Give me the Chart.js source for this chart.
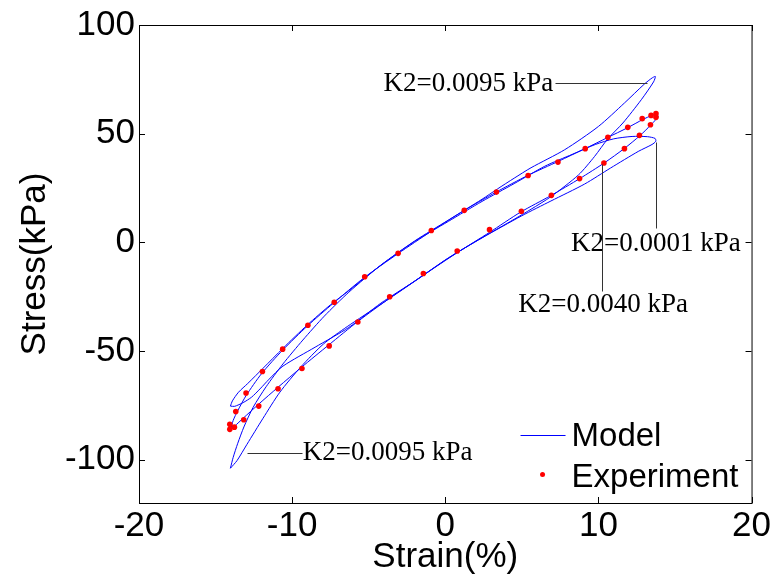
<!DOCTYPE html>
<html>
<head>
<meta charset="utf-8">
<script src="https://cdn.jsdelivr.net/npm/chart.js@4.4.0/dist/chart.umd.min.js"></script>
<style>
  html, body { margin: 0; padding: 0; background: #fff; }
</style>
</head>
<body>
<canvas id="chart" width="773" height="582"></canvas>
<script>
const xTicks = [-20, -10, 0, 10, 20];
const yTicks = [-100, -50, 0, 50, 100];

// experiment, one cycle: loading branch then unloading branch
const expStrain = [-14.07, -13.68, -13.01, -11.94, -10.62, -8.97, -7.25, -5.26, -3.08, -0.91,
  1.24, 3.34, 5.41, 7.36, 9.14, 10.62, 11.92, 12.86, 13.44, 13.76,
  13.76, 13.40, 12.68, 11.70, 10.36, 8.77, 6.93, 4.97, 2.89, 0.78,
  -1.43, -3.63, -5.71, -7.58, -9.36, -10.92, -12.18, -13.16, -13.77, -14.07];
const expStress = [-83.8, -77.9, -69.4, -59.5, -49.2, -38.2, -27.6, -15.9, -5.1, 5.4,
  14.7, 23.1, 30.7, 36.9, 43.1, 48.3, 52.9, 56.9, 58.4, 59.2,
  57.5, 54.1, 49.2, 43.1, 36.5, 29.3, 21.6, 14.3, 5.8, -4.0,
  -14.4, -25.1, -36.7, -47.7, -58.1, -67.4, -75.4, -81.7, -85.1, -86.1];

// model loops (K2 = 0.0095, 0.0040, 0.0001 kPa)
const k2a_strain = [-14.03, -13.85, -13.55, -13.15, -12.55, -11.7, -10.6, -9.3, -7.9, -6.3, -4.2, -2.0, 0.2, 2.4, 3.4, 4.5, 5.6, 7.8, 10.0, 11.7, 13.0, 13.5, 13.72,
  13.6, 12.8, 11.6, 10.6, 9.75, 8.7, 6.9, 5.6, 4.5, 2.4, 0.2, -2.0, -4.2, -6.4, -7.95, -9.45, -10.8, -11.9, -12.95, -13.6];
const k2a_stress = [-104, -99, -92.5, -85, -76, -66.5, -56, -45, -34, -23, -10.5, 0.6, 10.2, 19.8, 24.5, 29.5, 34.3, 42.6, 53.3, 64.1, 72.8, 75.6, 76.3,
  73.8, 65.6, 54.9, 47.5, 39.5, 31.0, 21.0, 15.2, 10.6, 2.1, -7.3, -18.0, -28.5, -38.8, -46.8, -57.5, -69.0, -81.0, -93.0, -100.5];

const k2b_strain = [-14.0, -13.85, -13.55, -13.0, -12.0, -10.6, -9.0, -7.3, -5.3, -3.1, -0.9, 1.2, 3.3, 5.4, 7.4, 9.1, 10.6, 11.9, 12.9, 13.5, 13.8,
  13.9, 13.75, 13.4, 12.7, 11.7, 10.4, 8.8, 6.9, 4.9, 2.9, 0.8, -1.4, -3.6, -5.7, -7.6, -9.4, -10.9, -12.2, -13.2, -13.75];
const k2b_stress = [-86.0, -82.0, -77.5, -70.5, -60.5, -49.5, -38.5, -28.0, -16.3, -5.3, 5.1, 14.5, 23.0, 30.8, 37.3, 43.0, 48.2, 52.7, 56.5, 58.4, 58.8,
  58.0, 56.5, 53.8, 49.0, 43.2, 36.6, 29.4, 21.5, 13.8, 4.6, -4.7, -15.0, -25.6, -36.4, -47.2, -57.6, -66.6, -74.6, -81.0, -84.6];

const k2c_strain = [-14.03, -13.9, -13.5, -12.9, -11.9, -10.6, -9.0, -7.5, -6.3, -4.2, -2.0, 0.2, 2.4, 4.5, 6.5, 8.3, 9.8, 11.0, 12.2, 13.2, 13.7,
  13.75, 13.5, 12.6, 10.8, 9.1, 6.9, 5.0, 2.4, 0.2, -2.0, -4.2, -6.3, -8.5, -10.6, -11.5, -12.1, -12.65, -13.2, -13.75];
const k2c_stress = [-75.4, -73.0, -69.0, -65.0, -58.0, -48.8, -38.0, -28.8, -22.3, -10.5, 0.4, 9.6, 18.8, 27.0, 35.0, 40.5, 45.0, 47.6, 48.7, 48.6, 47.8,
  46.5, 45.0, 41.8, 34.2, 26.8, 19.0, 12.2, 2.0, -7.2, -17.9, -28.0, -39.2, -48.3, -57.0, -63.0, -67.5, -71.3, -73.8, -75.5];

const toPoints = (xs, ys) => xs.map((x, i) => ({x: x, y: ys[i]}));
const closeLoop = pts => pts.concat([pts[0]]);

const modelColor = '#0000ff';
const sansFont = '"Liberation Sans", Arial, sans-serif';
const serifFont = '"Liberation Serif", "Times New Roman", serif';

// text labels with leader lines, in data units
const notes = [
  {text: 'K2=0.0095 kPa', from: [7.15, 73.1], to: [13.2, 73.1], at: [7.05, 73.1], align: 'right'},
  {text: 'K2=0.0001 kPa', from: [13.74, 46.3], to: [13.74, 6.4], at: [13.76, -0.9], align: 'center'},
  {text: 'K2=0.0040 kPa', from: [10.21, 35.8], to: [10.21, -22.5], at: [10.31, -28.9], align: 'center'},
  {text: 'K2=0.0095 kPa', from: [-12.95, -97.1], to: [-9.36, -97.1], at: [-9.3, -97.1], align: 'left'}
];

function modelSet(xs, ys) {
  return {
    label: 'Model',
    data: closeLoop(toPoints(xs, ys)),
    showLine: true,
    borderColor: modelColor,
    borderWidth: 1,
    pointRadius: 0,
    tension: 0.25,
    fill: false
  };
}

const axesBox = {
  id: 'axesBox',
  afterDatasetsDraw(chart) {
    const {ctx, chartArea: {left, right, top, bottom}, scales: {x, y}} = chart;
    const tl = 6;
    ctx.save();
    ctx.strokeStyle = '#000';
    ctx.lineWidth = 1;
    ctx.strokeRect(left + 0.5, top + 0.5, right - left, bottom - top);
    ctx.beginPath();
    xTicks.forEach(v => {
      const px = Math.round(x.getPixelForValue(v)) + 0.5;
      ctx.moveTo(px, bottom); ctx.lineTo(px, bottom - tl);
      ctx.moveTo(px, top); ctx.lineTo(px, top + tl);
    });
    yTicks.forEach(v => {
      const py = Math.round(y.getPixelForValue(v)) + 0.5;
      ctx.moveTo(left, py); ctx.lineTo(left + tl, py);
      ctx.moveTo(right, py); ctx.lineTo(right - tl, py);
    });
    ctx.stroke();

    // annotations
    ctx.strokeStyle = '#333';
    ctx.fillStyle = '#000';
    ctx.font = '27px ' + serifFont;
    ctx.textBaseline = 'middle';
    notes.forEach(n => {
      ctx.beginPath();
      ctx.moveTo(Math.round(x.getPixelForValue(n.from[0])) + 0.5, Math.round(y.getPixelForValue(n.from[1])) + 0.5);
      ctx.lineTo(Math.round(x.getPixelForValue(n.to[0])) + 0.5, Math.round(y.getPixelForValue(n.to[1])) + 0.5);
      ctx.stroke();
      ctx.textAlign = n.align;
      ctx.fillText(n.text, x.getPixelForValue(n.at[0]), y.getPixelForValue(n.at[1]));
    });
    ctx.restore();
  }
};

const legendBox = {
  id: 'legendBox',
  afterDraw(chart) {
    const {ctx, chartArea: {right, bottom}} = chart;
    ctx.save();
    ctx.strokeStyle = modelColor;
    ctx.lineWidth = 1;
    ctx.beginPath();
    ctx.moveTo(right - 231, bottom - 67.5);
    ctx.lineTo(right - 186, bottom - 67.5);
    ctx.stroke();
    ctx.fillStyle = '#ff0000';
    ctx.beginPath();
    ctx.arc(right - 209, bottom - 28.5, 2.5, 0, Math.PI * 2);
    ctx.fill();
    ctx.fillStyle = '#000';
    ctx.font = '33px ' + sansFont;
    ctx.textAlign = 'left';
    ctx.textBaseline = 'middle';
    ctx.fillText('Model', right - 180, bottom - 66);
    ctx.fillText('Experiment', right - 180, bottom - 25);
    ctx.restore();
  }
};

new Chart(document.getElementById('chart'), {
  type: 'scatter',
  data: {
    datasets: [
      {
        label: 'Experiment',
        data: toPoints(expStrain, expStress),
        pointRadius: 2.8,
        pointBackgroundColor: '#ff0000',
        pointBorderWidth: 0,
        showLine: false
      },
      modelSet(k2a_strain, k2a_stress),
      modelSet(k2b_strain, k2b_stress),
      modelSet(k2c_strain, k2c_stress)
    ]
  },
  options: {
    responsive: false,
    animation: false,
    devicePixelRatio: 1,
    layout: {padding: {left: 0, right: 21, top: 23, bottom: 0}},
    plugins: {
      legend: {display: false},
      tooltip: {enabled: false}
    },
    scales: {
      x: {
        type: 'linear', min: -20, max: 20,
        afterBuildTicks: s => { s.ticks = xTicks.map(v => ({value: v})); },
        afterFit: s => { s.height = 79; },
        grid: {display: false, drawTicks: false},
        border: {display: false},
        ticks: {color: '#000', padding: 2, maxRotation: 0, font: {family: sansFont, size: 35, lineHeight: 1.2}},
        title: {display: true, text: 'Strain(%)', color: '#000', padding: {top: 0, bottom: 4}, font: {family: sansFont, size: 35, lineHeight: 1.2}}
      },
      y: {
        type: 'linear', min: -120, max: 100,
        afterBuildTicks: s => { s.ticks = yTicks.map(v => ({value: v})); },
        afterFit: s => { s.width = 139; },
        grid: {display: false, drawTicks: false},
        border: {display: false},
        ticks: {color: '#000', padding: 4, font: {family: sansFont, size: 35, lineHeight: 1.2}},
        title: {display: true, text: 'Stress(kPa)', color: '#000', padding: {top: 14, bottom: 0}, font: {family: sansFont, size: 35, lineHeight: 1.2}}
      }
    }
  },
  plugins: [axesBox, legendBox]
});
</script>
</body>
</html>
